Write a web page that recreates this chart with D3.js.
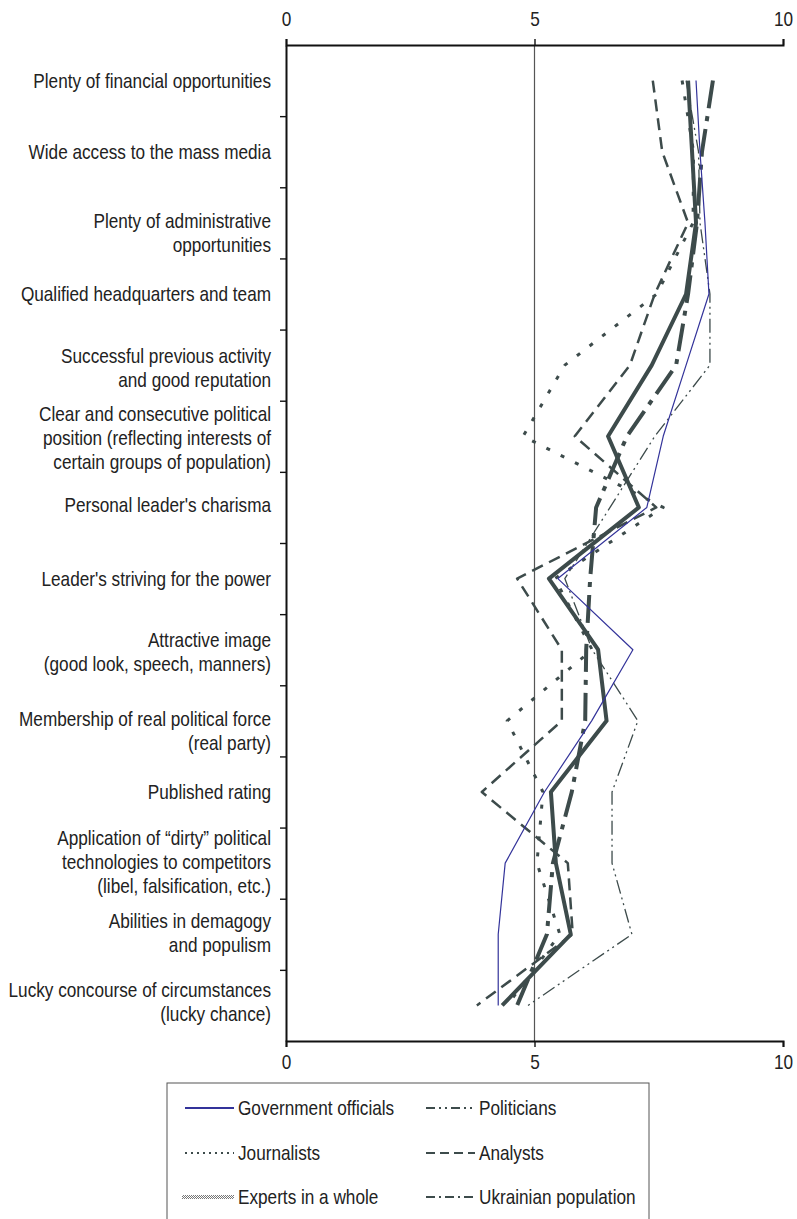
<!DOCTYPE html>
<html><head><meta charset="utf-8">
<script src="https://cdn.jsdelivr.net/npm/d3@7"></script>
<style>body{margin:0;background:#fff} svg{display:block}</style>
</head><body><svg id="c" width="797" height="1219"></svg>
<script>
// ---------- data ----------
const categories = [
 "Plenty of financial opportunities",
 "Wide access to the mass media",
 "Plenty of administrative\nopportunities",
 "Qualified headquarters and team",
 "Successful previous activity\nand good reputation",
 "Clear and consecutive political\nposition (reflecting interests of\ncertain groups of population)",
 "Personal leader's charisma",
 "Leader's striving for the power",
 "Attractive image\n(good look, speech, manners)",
 "Membership of real political force\n(real party)",
 "Published rating",
 "Application of “dirty” political\ntechnologies to competitors\n(libel, falsification, etc.)",
 "Abilities in demagogy\nand populism",
 "Lucky concourse of circumstances\n(lucky chance)"
];
const seriesNames = ["Government officials","Politicians","Journalists","Analysts","Experts in a whole","Ukrainian population"];
const governmentOfficials = [8.25, 8.33, 8.43, 8.51, 8.05, 7.59, 7.26, 5.47, 6.98, 6.15, 5.20, 4.41, 4.27, 4.27];
const politicians         = [8.05, 8.30, 8.33, 8.53, 8.53, 7.42, 6.52, 5.61, 6.16, 7.08, 6.56, 6.56, 6.96, 4.87];
const journalists         = [7.97, 8.20, 8.19, 7.46, 5.61, 4.77, 7.59, 5.41, 6.16, 4.45, 5.17, 5.05, 5.51, 4.45];
const analysts            = [7.38, 7.57, 8.09, 7.42, 6.92, 5.81, 7.45, 4.65, 5.55, 5.55, 3.94, 5.67, 5.77, 3.84];
const expertsInAWhole     = [8.09, 8.17, 8.25, 8.05, 7.36, 6.48, 7.10, 5.29, 6.28, 6.45, 5.33, 5.43, 5.73, 4.35];
const ukrainianPopulation = [8.59, 8.37, 8.27, 8.09, 7.85, 6.86, 6.24, 6.12, 6.04, 6.02, 5.75, 5.37, 5.25, 4.65];
const xTicks = [0, 5, 10];

// ---------- layout / styles ----------
const labelNudge = [0, 0, 10, 0, 3, 2, -2, 0, 2, 10, 0, -1, -1, -3];
const DARK = "#3d4b4b";
const styles = {
 "Government officials": {color:"#33339a", width:1.2, dash:null, lw:2, ldash:null},
 "Politicians":          {color:DARK, width:1.3, dash:"14,4,2,4,2,4", lw:2, ldash:"9,4,2,4,2,4"},
 "Journalists":          {color:DARK, width:3, dash:"4,12", lw:1.8, ldash:"2,4"},
 "Analysts":             {color:DARK, width:2.5, dash:"12,7", lw:2, ldash:"9,5"},
 "Experts in a whole":   {color:DARK, width:4, dash:null, pattern:true},
 "Ukrainian population": {color:DARK, width:4, dash:"28,8,5,8", lw:2, ldash:"9,4,2,4"}
};
const values = [governmentOfficials, politicians, journalists, analysts, expertsInAWhole, ukrainianPopulation];
const series = seriesNames.map((n,i)=>({name:n, values:values[i]}));

// ---------- chart ----------
const svg = d3.select("#c");
const x = d3.scaleLinear().domain([0,10]).range([286,783]);
const y = d3.scaleBand().domain(categories).range([45,1041]);
const yb = d3.scaleLinear().domain([0,categories.length]).range([45,1041]);
const FONT = "'Liberation Sans Narrow','Arial Narrow','Liberation Sans',Arial,sans-serif";
const FS = 20;
const probe = svg.append("text").attr("font-family",FONT).attr("font-size",FS).text(categories[0]);
const sx = 238 / probe.node().getComputedTextLength();
probe.remove();

svg.append("defs").append("pattern").attr("id","chk").attr("width",2).attr("height",2)
  .attr("patternUnits","userSpaceOnUse")
  .call(p=>{p.append("rect").attr("width",2).attr("height",2).attr("fill","#fff");
            p.append("rect").attr("width",1).attr("height",1).attr("fill","#777");
            p.append("rect").attr("x",1).attr("y",1).attr("width",1).attr("height",1).attr("fill","#777");});

// reference line at 5
svg.append("line").attr("x1",x(5)).attr("x2",x(5)).attr("y1",45).attr("y2",1041)
  .attr("stroke","#555").attr("stroke-width",1.2);

const line = d3.line().x(d=>x(d.v)).y(d=>y(d.c)+y.bandwidth()/2);
const order = ["Politicians","Analysts","Journalists","Ukrainian population","Experts in a whole","Government officials"];
order.forEach(n=>{
  const s = series.find(t=>t.name===n), st = styles[n];
  svg.append("path")
    .datum(s.values.map((v,i)=>({v, c:categories[i]})))
    .attr("d",line).attr("fill","none")
    .attr("stroke",st.color).attr("stroke-width",st.width)
    .attr("stroke-dasharray",st.dash)
    .attr("stroke-linejoin","round");
});

// axes
function styleAxis(g, w){
  g.select(".domain").attr("stroke","#111").attr("stroke-width",w);
  g.selectAll(".tick line").attr("stroke","#111").attr("stroke-width",1.4);
  g.selectAll("text").attr("font-family",FONT).attr("font-size",FS).attr("fill","#222")
    .attr("transform",`scale(${sx},1)`);
}
svg.append("g").attr("transform","translate(0,45)")
  .call(d3.axisTop(x).tickValues(xTicks).tickSize(6).tickPadding(13))
  .call(g=>styleAxis(g,2));
svg.append("g").attr("transform","translate(0,1041)")
  .call(d3.axisBottom(x).tickValues(xTicks).tickSize(6).tickPadding(8))
  .call(g=>styleAxis(g,2));
svg.append("g").attr("transform","translate(286,0)")
  .call(d3.axisLeft(yb).tickValues(d3.range(1,categories.length)).tickFormat("").tickSize(6).tickSizeOuter(0))
  .call(g=>styleAxis(g,2));

// category labels
const LH = 24;
categories.forEach((c,ci)=>{
  const lines = c.split("\n");
  const g = svg.append("g").attr("transform",`translate(271,${y(c)+y.bandwidth()/2+labelNudge[ci]})`);
  const t = g.append("text").attr("font-family",FONT).attr("font-size",FS).attr("fill","#222")
    .attr("text-anchor","end").attr("transform",`scale(${sx},1)`);
  lines.forEach((l,i)=>t.append("tspan").attr("x",0).attr("y",(i-(lines.length-1)/2)*LH).attr("dy","0.35em").text(l));
});

// legend
svg.append("rect").attr("x",167).attr("y",1083).attr("width",482).attr("height",160)
  .attr("fill","none").attr("stroke","#555").attr("stroke-width",1);
const colX = [185, 426], rowY = [1108, 1153, 1197];
series.forEach((s,i)=>{
  const cx = colX[i%2], cy = rowY[Math.floor(i/2)], st = styles[s.name];
  if (st.pattern){
    svg.append("rect").attr("x",cx-3).attr("y",cy-2).attr("width",52).attr("height",4).attr("fill","url(#chk)");
  } else {
    svg.append("line").attr("x1",cx).attr("x2",cx+49).attr("y1",cy).attr("y2",cy)
      .attr("stroke",st.color).attr("stroke-width",st.lw).attr("stroke-dasharray",st.ldash);
  }
  const g = svg.append("g").attr("transform",`translate(${cx+53},${cy})`);
  g.append("text").attr("font-family",FONT).attr("font-size",FS).attr("fill","#222")
    .attr("dy","0.35em").attr("transform",`scale(${sx},1)`).text(s.name);
});
</script></body></html>
